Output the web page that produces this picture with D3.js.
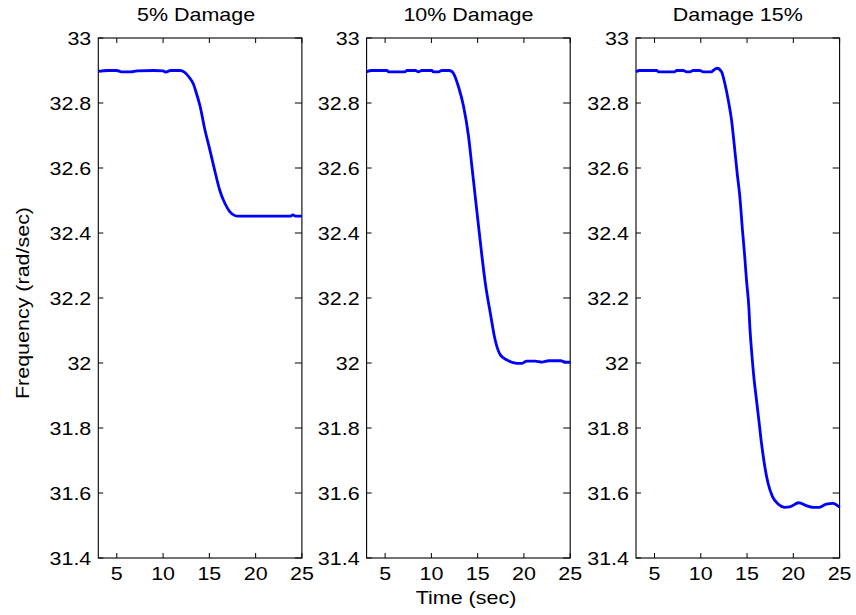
<!DOCTYPE html>
<html>
<head>
<meta charset="utf-8">
<script src="https://cdn.jsdelivr.net/npm/d3@7"></script>
<style>
  html, body { margin: 0; padding: 0; background: #fff; }
  svg text { font-family: "Liberation Sans", Arial, sans-serif; fill: #000; }
</style>
</head>
<body>
<svg id="chart" width="856" height="615"></svg>
<script>
// Frequency response of the structure for three damage levels
const panelTitles = ["5% Damage", "10% Damage", "Damage 15%"];
const xTicks = [5, 10, 15, 20, 25];
const yTicks = [31.4, 31.6, 31.8, 32, 32.2, 32.4, 32.6, 32.8, 33];

// time (sec) and frequency (rad/sec) samples
const time5 = [3, 4, 5, 5.5, 6.5, 7.2, 9, 10, 10.3, 10.8, 11.8, 12.3, 12.8, 13.25, 13.6, 14.0, 14.5, 15.06, 15.6, 16.14, 16.7, 17.2, 17.8, 18, 20, 23.8, 24.0, 24.3, 25];
const freq5 = [32.897, 32.9, 32.9, 32.896, 32.896, 32.899, 32.9, 32.899, 32.895, 32.9, 32.9, 32.895, 32.88, 32.86, 32.83, 32.79, 32.72, 32.655, 32.59, 32.53, 32.49, 32.466, 32.453, 32.452, 32.452, 32.452, 32.456, 32.452, 32.452];

const time10 = [3, 3.56, 5.2, 5.37, 7.17, 7.35, 8.25, 8.6, 8.97, 10.05, 10.2, 10.78, 11.14, 11.85, 12.22, 12.39, 12.93, 13.48, 14.02, 14.38, 14.74, 15.1, 15.47, 15.83, 16.37, 16.9, 17.45, 18.17, 19.25, 19.8, 20.3, 21.2, 21.96, 22.68, 23.94, 24.5, 25];
const freq10 = [32.896, 32.9, 32.9, 32.896, 32.896, 32.9, 32.9, 32.896, 32.9, 32.9, 32.896, 32.896, 32.9, 32.9, 32.897, 32.891, 32.85, 32.789, 32.696, 32.604, 32.512, 32.42, 32.327, 32.245, 32.153, 32.07, 32.025, 32.009, 31.999, 31.999, 32.006, 32.006, 32.003, 32.007, 32.007, 32.003, 32.003];

const time15 = [3, 3.43, 5.23, 5.41, 7.2, 7.38, 8.1, 8.46, 8.82, 9.18, 9.9, 10.26, 11.16, 11.34, 11.77, 12.24, 12.6, 12.96, 13.32, 13.6, 13.93, 14.22, 14.5, 14.75, 14.94, 15.19, 15.3, 15.48, 15.73, 16.02, 16.27, 16.56, 16.92, 17.27, 17.75, 18.35, 19.07, 19.6, 20.58, 21.4, 22.13, 22.8, 23.57, 24.28, 25];
const freq15 = [32.896, 32.9, 32.9, 32.896, 32.896, 32.9, 32.9, 32.896, 32.896, 32.9, 32.9, 32.896, 32.896, 32.9, 32.907, 32.896, 32.86, 32.81, 32.748, 32.676, 32.584, 32.512, 32.41, 32.327, 32.255, 32.173, 32.112, 32.04, 31.958, 31.886, 31.825, 31.753, 31.681, 31.63, 31.589, 31.566, 31.556, 31.557, 31.57, 31.561, 31.556, 31.556, 31.566, 31.568, 31.556];

const seriesTimes = [time5, time10, time15];
const seriesFreqs = [freq5, freq10, freq15];

const svg = d3.select("#chart");
const plotTop = 38, plotBottom = 558;
const panelLefts = [98.3, 366.6, 636];
const panelWidth = 203.6;
const fontSize = 19;
const stretch = 1.13;

function addText(sel, x, y, str, anchor, rotate) {
  return sel.append("text")
    .attr("transform", `translate(${x},${y})` + (rotate ? ` rotate(${rotate})` : "") + ` scale(${stretch},1)`)
    .attr("text-anchor", anchor)
    .style("font-size", fontSize + "px")
    .text(str);
}

const y = d3.scaleLinear().domain([31.4, 33]).range([plotBottom, plotTop]);

panelLefts.forEach((left, i) => {
  const x = d3.scaleLinear().domain([3, 25]).range([left, left + panelWidth]);
  const g = svg.append("g");

  // frame
  g.append("rect")
    .attr("x", x(3)).attr("y", y(33))
    .attr("width", x(25) - x(3)).attr("height", y(31.4) - y(33))
    .attr("fill", "none").attr("stroke", "#000").attr("stroke-width", 1.1);

  // inward ticks: bottom/top
  xTicks.forEach(t => {
    g.append("line").attr("x1", x(t)).attr("x2", x(t)).attr("y1", y(31.4)).attr("y2", y(31.4) - 5)
      .attr("stroke", "#000").attr("stroke-width", 1);
    g.append("line").attr("x1", x(t)).attr("x2", x(t)).attr("y1", y(33)).attr("y2", y(33) + 5)
      .attr("stroke", "#000").attr("stroke-width", 1);
    addText(g, x(t), 580, String(t), "middle");
  });
  // inward ticks: left/right
  yTicks.forEach(v => {
    g.append("line").attr("x1", x(3)).attr("x2", x(3) + 5).attr("y1", y(v)).attr("y2", y(v))
      .attr("stroke", "#000").attr("stroke-width", 1);
    g.append("line").attr("x1", x(25)).attr("x2", x(25) - 7).attr("y1", y(v)).attr("y2", y(v))
      .attr("stroke", "#000").attr("stroke-width", 1);
    addText(g, x(3) - 7, y(v) + 6.8, d3.format("~g")(v), "end");
  });

  // title
  addText(g, left + panelWidth / 2 - (i === 0 ? 4 : 0), 21, panelTitles[i], "middle");

  // response curve
  const pts = seriesTimes[i].map((t, k) => [t, seriesFreqs[i][k]]);
  const line = d3.line()
    .x(d => x(d[0]))
    .y(d => y(d[1]))
    .curve(d3.curveMonotoneX);
  g.append("path")
    .datum(pts)
    .attr("d", line)
    .attr("fill", "none")
    .attr("stroke", "#0000ff")
    .attr("stroke-width", 2.8)
    .attr("stroke-linejoin", "round");
});

// axis labels
addText(svg, 466, 604, "Time (sec)", "middle");
addText(svg, 29, 303, "Frequency (rad/sec)", "middle", -90);
</script>
</body>
</html>
